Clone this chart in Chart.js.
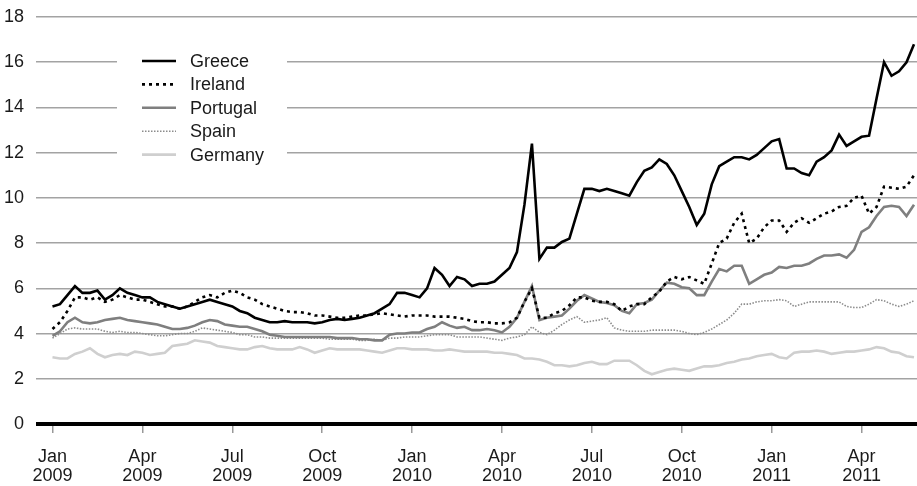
<!DOCTYPE html>
<html>
<head>
<meta charset="utf-8">
<script src="https://cdn.jsdelivr.net/npm/chart.js@4/dist/chart.umd.min.js"></script>
<style>
  html, body { margin: 0; padding: 0; background: #fff; }
</style>
</head>
<body>
<canvas id="yields" width="917" height="486"></canvas>
<script>
// x values are months since Jan 2009, one reading every quarter month
var step = 0.25;
var tickMonths = [0, 3, 6, 9, 12, 15, 18, 21, 24, 27];
var tickLabels = [
  ['Jan', '2009'], ['Apr', '2009'], ['Jul', '2009'], ['Oct', '2009'],
  ['Jan', '2010'], ['Apr', '2010'], ['Jul', '2010'], ['Oct', '2010'],
  ['Jan', '2011'], ['Apr', '2011']
];
var countries = ['Greece', 'Ireland', 'Portugal', 'Spain', 'Germany'];

var greece = [
  5.2, 5.3, 5.7, 6.1, 5.8, 5.8, 5.9, 5.5, 5.7, 6.0, 5.8, 5.7,
  5.6, 5.6, 5.4, 5.3, 5.2, 5.1, 5.2, 5.3, 5.4, 5.5, 5.4, 5.3,
  5.2, 5.0, 4.9, 4.7, 4.6, 4.5, 4.5, 4.55, 4.5, 4.5, 4.5, 4.45,
  4.5, 4.6, 4.65, 4.6, 4.65, 4.7, 4.8, 4.9, 5.1, 5.3, 5.8, 5.8,
  5.7, 5.6, 6.0, 6.9, 6.6, 6.1, 6.5, 6.4, 6.1, 6.2, 6.2, 6.3,
  6.6, 6.9, 7.6, 9.7, 12.4, 7.3, 7.8, 7.8, 8.05, 8.2, 9.3, 10.4,
  10.4, 10.3, 10.4, 10.3, 10.2, 10.1, 10.7, 11.2, 11.35, 11.7, 11.5, 11.0,
  10.3, 9.6, 8.8, 9.3, 10.6, 11.4, 11.6, 11.8, 11.8, 11.7, 11.9, 12.2,
  12.5, 12.6, 11.3, 11.3, 11.1, 11.0, 11.6, 11.8, 12.1, 12.8, 12.3, 12.5,
  12.7, 12.75, 14.4, 16.0, 15.4, 15.6, 16.0, 16.8
];
var ireland = [
  4.2, 4.5, 5.0, 5.6, 5.6, 5.5, 5.6, 5.4, 5.5, 5.7, 5.6, 5.5,
  5.5, 5.4, 5.3, 5.2, 5.2, 5.1, 5.2, 5.4, 5.6, 5.7, 5.6, 5.8,
  5.9, 5.8, 5.6, 5.5, 5.3, 5.2, 5.1, 5.0, 4.95, 4.95, 4.9, 4.8,
  4.8, 4.75, 4.7, 4.7, 4.75, 4.8, 4.8, 4.85, 4.9, 4.85, 4.8, 4.75,
  4.8, 4.8, 4.8, 4.75, 4.75, 4.75, 4.7, 4.65, 4.55, 4.5, 4.5, 4.45,
  4.45, 4.5, 4.7, 5.4, 6.0, 4.7, 4.7, 4.9, 5.0, 5.25, 5.6, 5.6,
  5.45, 5.4, 5.4, 5.3, 5.0, 5.2, 5.3, 5.3, 5.6, 5.85, 6.3, 6.5,
  6.4, 6.5, 6.35, 6.2, 7.1, 8.0, 8.2, 8.9, 9.3, 8.0, 8.2, 8.7,
  9.0, 9.0, 8.5, 8.9, 9.1, 8.9, 9.1, 9.3, 9.4, 9.6, 9.65, 10.0,
  10.1, 9.3, 9.6, 10.5, 10.45, 10.4, 10.5, 11.0
];
var portugal = [
  3.9, 4.1, 4.5, 4.7, 4.5, 4.45, 4.5, 4.6, 4.65, 4.7, 4.6, 4.55,
  4.5, 4.45, 4.4, 4.3, 4.2, 4.2, 4.25, 4.35, 4.5, 4.6, 4.55, 4.4,
  4.35, 4.3, 4.3, 4.2, 4.1, 3.95, 3.9, 3.85, 3.85, 3.85, 3.85, 3.85,
  3.85, 3.85, 3.8, 3.8, 3.8, 3.75, 3.75, 3.7, 3.7, 3.95, 4.0, 4.0,
  4.05, 4.05, 4.2, 4.3, 4.5, 4.35, 4.25, 4.3, 4.15, 4.15, 4.2, 4.15,
  4.05, 4.3, 4.7, 5.4, 6.1, 4.6, 4.7, 4.75, 4.8, 5.1, 5.45, 5.7,
  5.55, 5.4, 5.35, 5.25, 5.0, 4.9, 5.3, 5.35, 5.5, 5.9, 6.25, 6.2,
  6.05, 6.0, 5.7, 5.7, 6.3, 6.85, 6.75, 7.0, 7.0, 6.2, 6.4, 6.6,
  6.7, 6.95, 6.9, 7.0, 7.0, 7.1, 7.3, 7.45, 7.45, 7.5, 7.35, 7.7,
  8.5, 8.7, 9.2, 9.6, 9.65, 9.6, 9.2, 9.7
];
var spain = [
  3.8, 4.0, 4.2, 4.25, 4.2, 4.2, 4.2, 4.1, 4.05, 4.1, 4.05, 4.05,
  4.0, 3.95, 3.9, 3.9, 3.95, 4.0, 4.0, 4.1, 4.25, 4.2, 4.15, 4.1,
  4.05, 3.95, 3.95, 3.85, 3.85, 3.8, 3.8, 3.8, 3.8, 3.8, 3.8, 3.8,
  3.8, 3.75, 3.75, 3.75, 3.75, 3.7, 3.7, 3.75, 3.7, 3.8, 3.8, 3.85,
  3.85, 3.85, 3.9, 3.95, 3.95, 3.95, 3.85, 3.85, 3.85, 3.85, 3.8, 3.75,
  3.7, 3.8, 3.85, 3.95, 4.3, 4.05, 3.95, 4.15, 4.4, 4.6, 4.75, 4.5,
  4.55, 4.6, 4.7, 4.25, 4.15, 4.1, 4.1, 4.1, 4.15, 4.15, 4.15, 4.15,
  4.1, 4.0, 3.95, 4.05, 4.2, 4.4, 4.6, 4.9, 5.3, 5.3, 5.4, 5.45,
  5.45, 5.5, 5.45, 5.2, 5.3, 5.4, 5.4, 5.4, 5.4, 5.4, 5.2, 5.15,
  5.15, 5.3, 5.5, 5.45, 5.3, 5.2, 5.3, 5.45
];
var germany = [
  2.95, 2.9, 2.9, 3.1, 3.2, 3.35, 3.1, 2.95, 3.05, 3.1, 3.05, 3.2,
  3.15, 3.05, 3.1, 3.15, 3.45, 3.5, 3.55, 3.7, 3.65, 3.6, 3.45, 3.4,
  3.35, 3.3, 3.3, 3.4, 3.45, 3.35, 3.3, 3.3, 3.3, 3.4, 3.3, 3.15,
  3.25, 3.35, 3.3, 3.3, 3.3, 3.3, 3.25, 3.2, 3.15, 3.25, 3.35, 3.35,
  3.3, 3.3, 3.3, 3.25, 3.25, 3.3, 3.25, 3.2, 3.2, 3.2, 3.2, 3.15,
  3.15, 3.1, 3.05, 2.9, 2.9, 2.85, 2.75, 2.6, 2.6, 2.55, 2.6, 2.7,
  2.75, 2.65, 2.65, 2.8, 2.8, 2.8, 2.6, 2.35, 2.2, 2.3, 2.4, 2.45,
  2.4, 2.35, 2.45, 2.55, 2.55, 2.6, 2.7, 2.75, 2.85, 2.9, 3.0, 3.05,
  3.1, 2.95, 2.9, 3.15, 3.2, 3.2, 3.25, 3.2, 3.1, 3.15, 3.2, 3.2,
  3.25, 3.3, 3.4, 3.35, 3.2, 3.15, 3.0, 2.95
];

var font = '"Liberation Sans", Arial, Helvetica, sans-serif';
var textColor = '#1a1a1a';

function points(values) {
  return values.map(function (v, i) { return { x: i * step, y: v }; });
}

// legend drawn inside the plot on a white patch, like the original
var boxLegend = {
  id: 'boxLegend',
  afterDatasetsDraw: function (chart) {
    var ctx = chart.ctx;
    ctx.save();
    ctx.fillStyle = '#fff';
    ctx.fillRect(117, 45, 170, 124);
    ctx.font = '18px ' + font;
    ctx.textBaseline = 'middle';
    chart.data.datasets.forEach(function (ds, i) {
      var y = 61 + i * 23.4;
      ctx.strokeStyle = ds.borderColor;
      ctx.lineWidth = ds.borderWidth;
      ctx.setLineDash(ds.borderDash || []);
      ctx.beginPath();
      ctx.moveTo(142, y);
      ctx.lineTo(176, y);
      ctx.stroke();
      ctx.setLineDash([]);
      ctx.fillStyle = textColor;
      ctx.fillText(ds.label, 190, y + 1);
    });
    ctx.restore();
  }
};

var ctx = document.getElementById('yields').getContext('2d');
var chart = new Chart(ctx, {
  type: 'line',
  data: {
    datasets: [
      { label: countries[0], data: points(greece), borderColor: '#000', borderWidth: 2.6 },
      { label: countries[1], data: points(ireland), borderColor: '#000', borderWidth: 2.6, borderDash: [3, 4] },
      { label: countries[2], data: points(portugal), borderColor: '#7f7f7f', borderWidth: 2.6 },
      { label: countries[3], data: points(spain), borderColor: '#8c8c8c', borderWidth: 1.6, borderDash: [1.5, 1.5] },
      { label: countries[4], data: points(germany), borderColor: '#cfcfcf', borderWidth: 2.6 }
    ]
  },
  options: {
    responsive: false,
    animation: false,
    layout: { padding: { left: 4, right: 0, top: 17, bottom: 0 } },
    elements: { point: { radius: 0 }, line: { tension: 0 } },
    plugins: { legend: { display: false }, tooltip: { enabled: false } },
    scales: {
      x: {
        type: 'linear',
        min: -0.55,
        max: 28.85,
        afterBuildTicks: function (scale) {
          scale.ticks = tickMonths.map(function (m) { return { value: m }; });
        },
        afterFit: function (scale) {
          scale.height = 62;
          scale.paddingLeft = 0;
          scale.paddingRight = 0;
        },
        ticks: {
          autoSkip: false,
          maxRotation: 0,
          padding: 14,
          color: textColor,
          font: { family: font, size: 18, lineHeight: 1.08 },
          callback: function (value) {
            var k = tickMonths.indexOf(value);
            return k >= 0 ? tickLabels[k] : '';
          }
        },
        grid: { drawOnChartArea: false, drawTicks: true, tickLength: 9, color: '#999', lineWidth: 1.5 },
        border: { display: false }
      },
      y: {
        min: 0,
        max: 18,
        afterFit: function (scale) {
          scale.width = 32;
          scale.paddingTop = 0;
          scale.paddingBottom = 0;
        },
        ticks: {
          stepSize: 2,
          padding: 12,
          color: textColor,
          font: { family: font, size: 18 }
        },
        grid: {
          drawTicks: false,
          color: function (c) { return c.tick && c.tick.value === 0 ? '#000' : '#a3a3a3'; },
          lineWidth: function (c) { return c.tick && c.tick.value === 0 ? 4 : 1.5; }
        },
        border: { display: false }
      }
    }
  },
  plugins: [boxLegend]
});
</script>
</body>
</html>
